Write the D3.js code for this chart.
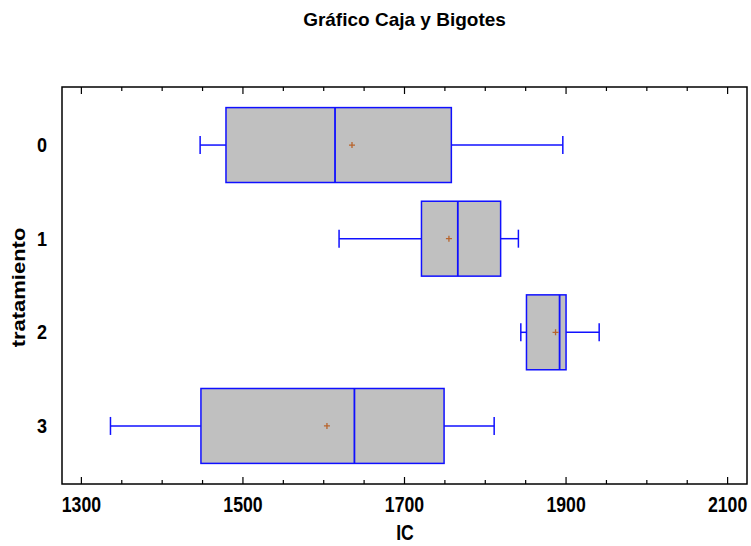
<!DOCTYPE html>
<html>
<head>
<meta charset="utf-8">
<script src="https://cdn.jsdelivr.net/npm/d3@7"></script>
<style>
  html, body { margin: 0; padding: 0; background: #fff; }
  svg { display: block; }
  text { font-family: "Liberation Sans", Arial, sans-serif; font-weight: bold; fill: #000; }
</style>
</head>
<body>
<svg id="chart" width="751" height="546"></svg>
<script>
const categories = ["0", "1", "2", "3"];
const whiskerLow  = [1447, 1619, 1844, 1336];
const q1          = [1479, 1721, 1851, 1448];
const median      = [1614, 1766, 1892, 1638];
const q3          = [1758, 1819, 1900, 1749];
const whiskerHigh = [1896, 1841, 1941, 1811];
const means       = [1635, 1755, 1887, 1604];
const majorTicks  = [1300, 1500, 1700, 1900, 2100];
const minorTicks  = d3.range(1300, 2101, 50);

const W = 751, H = 546;
const m = { left: 62, right: 4, top: 87, bottom: 62 };
const svg = d3.select("#chart");

const x = d3.scaleLinear().domain([1276, 2124]).range([m.left, W - m.right]);
const y = d3.scalePoint().domain(categories).range([m.top, H - m.bottom]).padding(0.62);
const boxH = y.step() * 0.8;
const capH = 18;
const blue = "#1010ff";

const data = categories.map((c, i) => ({
  c, lo: whiskerLow[i], q1: q1[i], med: median[i], q3: q3[i], hi: whiskerHigh[i], mean: means[i]
}));

const g = svg.append("g");
data.forEach(d => {
  const cy = y(d.c);
  g.append("line").attr("x1", x(d.lo)).attr("x2", x(d.q1)).attr("y1", cy).attr("y2", cy)
    .attr("stroke", blue).attr("stroke-width", 1.5);
  g.append("line").attr("x1", x(d.q3)).attr("x2", x(d.hi)).attr("y1", cy).attr("y2", cy)
    .attr("stroke", blue).attr("stroke-width", 1.5);
  g.append("line").attr("x1", x(d.lo)).attr("x2", x(d.lo)).attr("y1", cy - capH / 2).attr("y2", cy + capH / 2)
    .attr("stroke", blue).attr("stroke-width", 1.5);
  g.append("line").attr("x1", x(d.hi)).attr("x2", x(d.hi)).attr("y1", cy - capH / 2).attr("y2", cy + capH / 2)
    .attr("stroke", blue).attr("stroke-width", 1.5);
  g.append("rect").attr("x", x(d.q1)).attr("y", cy - boxH / 2)
    .attr("width", x(d.q3) - x(d.q1)).attr("height", boxH)
    .attr("fill", "#c0c0c0").attr("stroke", blue).attr("stroke-width", 1.5);
  g.append("line").attr("x1", x(d.med)).attr("x2", x(d.med)).attr("y1", cy - boxH / 2).attr("y2", cy + boxH / 2)
    .attr("stroke", blue).attr("stroke-width", 1.8);
  const mx = x(d.mean);
  g.append("path").attr("d", `M${mx - 3},${cy}H${mx + 3}M${mx},${cy - 3}V${cy + 3}`)
    .attr("stroke", "#b8642c").attr("stroke-width", 1.3).attr("fill", "none");
});

svg.append("rect").attr("x", m.left).attr("y", m.top)
  .attr("width", W - m.right - m.left).attr("height", H - m.bottom - m.top)
  .attr("fill", "none").attr("stroke", "#000").attr("stroke-width", 1.5);

const yB = H - m.bottom, yT = m.top;
minorTicks.forEach(v => {
  const major = majorTicks.includes(v);
  const len = major ? 7 : 4;
  svg.append("line").attr("x1", x(v)).attr("x2", x(v)).attr("y1", yB).attr("y2", yB - len)
    .attr("stroke", "#000").attr("stroke-width", 1.2);
  svg.append("line").attr("x1", x(v)).attr("x2", x(v)).attr("y1", yT).attr("y2", yT + len)
    .attr("stroke", "#000").attr("stroke-width", 1.2);
});

majorTicks.forEach(v => {
  svg.append("text").attr("transform", `translate(${x(v)},${511.5}) scale(0.93,1.12)`)
    .attr("text-anchor", "middle").style("font-size", "19px").text(v);
});

categories.forEach(c => {
  svg.append("text").attr("transform", `translate(47,${y(c) + 7}) scale(0.95,1.05)`)
    .attr("text-anchor", "end").style("font-size", "19px").text(c);
});

svg.append("text").attr("x", (m.left + W - m.right) / 2).attr("y", 26)
  .attr("text-anchor", "middle").style("font-size", "19px").text("Gráfico Caja y Bigotes");

svg.append("text").attr("transform", `translate(405,540) scale(0.93,1.12)`)
  .attr("text-anchor", "middle").style("font-size", "19px").text("IC");
svg.append("text").attr("transform", `translate(25,${(m.top + H - m.bottom) / 2 + 2}) rotate(-90) scale(1.1,0.92)`)
  .attr("text-anchor", "middle").style("font-size", "20px").text("tratamiento");
</script>
</body>
</html>
